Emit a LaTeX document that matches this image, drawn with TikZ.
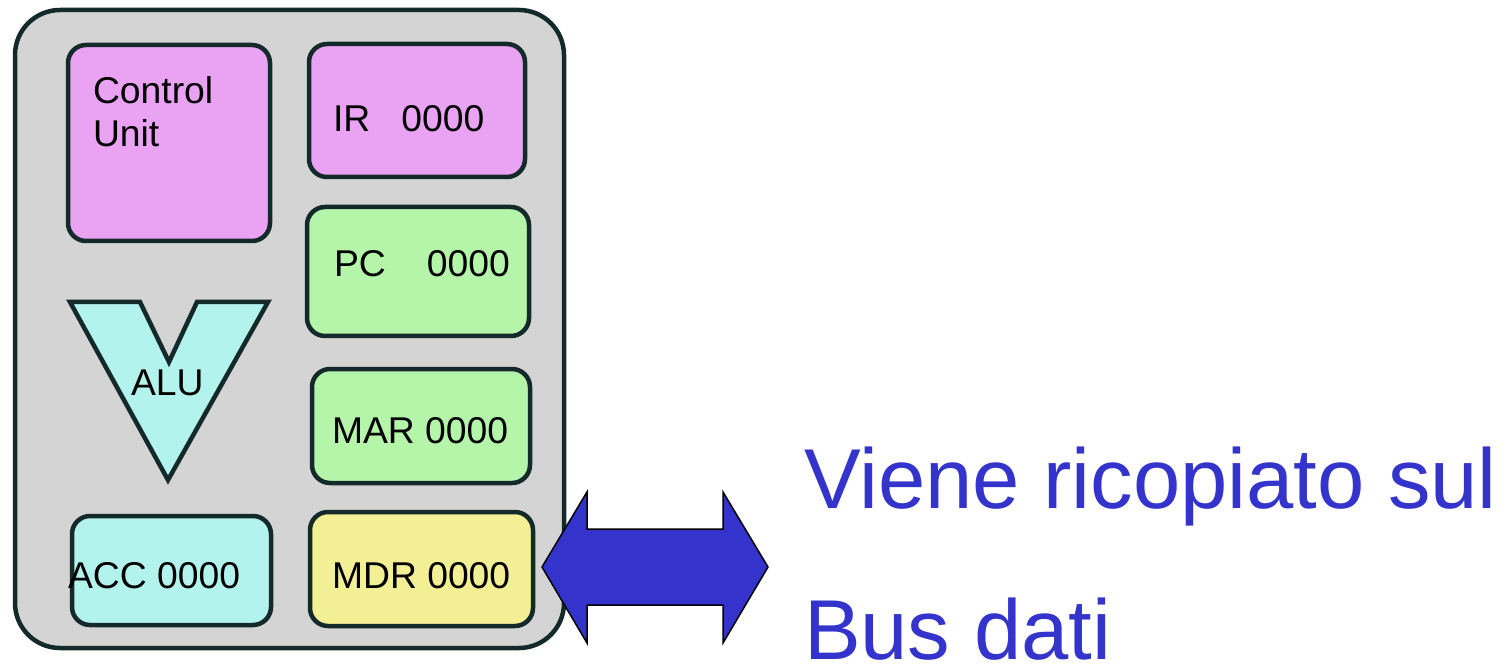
\documentclass[tikz,border=0pt]{standalone}
\usepackage{fontspec}
\setmainfont{Liberation Sans}
\definecolor{framec}{HTML}{142A2A}
\definecolor{cpuc}{HTML}{D4D4D4}
\definecolor{pinkc}{HTML}{E9A3F2}
\definecolor{greenc}{HTML}{B4F5AA}
\definecolor{cyanc}{HTML}{B3F3EE}
\definecolor{yellowc}{HTML}{F3EF95}
\definecolor{bluec}{HTML}{3434CC}
\begin{document}
\begin{tikzpicture}[x=1pt,y=-1pt,
  box/.style={draw=framec, line width=4.5pt, rounded corners=18pt, inner sep=0pt, outer sep=0pt},
  lbl/.style={anchor=base west, inner sep=0pt, outer sep=0pt, text=black,
              font=\fontsize{37.3}{43}\selectfont},
  big/.style={anchor=base west, inner sep=0pt, outer sep=0pt, text=bluec,
              font=\fontsize{85}{100}\selectfont}]
\fill[white] (0,0) rectangle (1505,668);
\useasboundingbox (0,0) rectangle (1505,668);

% processor casing
\node[box, rounded corners=45pt, fill=cpuc, minimum width=549pt, minimum height=638pt] (cpu) at (289.5,329) {};

% registers and units
\node[box, fill=pinkc,   minimum width=202pt, minimum height=196pt] (cu)  at (169,143) {};
\node[box, fill=pinkc,   minimum width=216pt, minimum height=133pt] (ir)  at (417,110.5) {};
\node[box, fill=greenc,  minimum width=222pt, minimum height=129pt] (pc)  at (418,271.5) {};
\node[box, fill=greenc,  minimum width=218pt, minimum height=114pt] (mar) at (421,426) {};
\node[box, fill=cyanc,   minimum width=199pt, minimum height=109pt] (acc) at (171.5,570.5) {};
\node[box, fill=yellowc, minimum width=223pt, minimum height=114pt] (mdr) at (421.5,569) {};

% ALU symbol
\draw[draw=framec, fill=cyanc, line width=4.5pt, line join=miter]
  (70,302) -- (140,302) -- (169,362) -- (197,302) -- (268,302) -- (168,480) -- cycle;

% labels
\node[lbl] (cu1)  at (93,104)  {Control};
\node[lbl] (cu2)  at (93,147)  {Unit};
\node[lbl] (irl)  at (333,132) {IR\hspace{31pt}0000};
\node[lbl] (pcl)  at (334,277) {PC\hspace{41pt}0000};
\node[lbl] (marl) at (332,443) {MAR 0000};
\node[lbl] (alul) at (131,395) {ALU};
\node[lbl] (accl) at (68,588)  {ACC 0000};
\node[lbl] (mdrl) at (332,588) {MDR 0000};

% data bus transfer arrow
\coordinate (tipl) at (542,567);
\coordinate (tipr) at (768,567);
\fill[bluec, draw=black, line width=1.5pt]
  (tipl) -- (587,492) -- (587,529) -- (723,529) -- (723,492) -- (tipr)
  -- (723,643) -- (723,605) -- (587,605) -- (587,643) -- cycle;

% caption
\node[big] (cap1) at (804,508) {Viene ricopiato sul};
\node[big] (cap2) at (804,659) {Bus dati};
\end{tikzpicture}
\end{document}
